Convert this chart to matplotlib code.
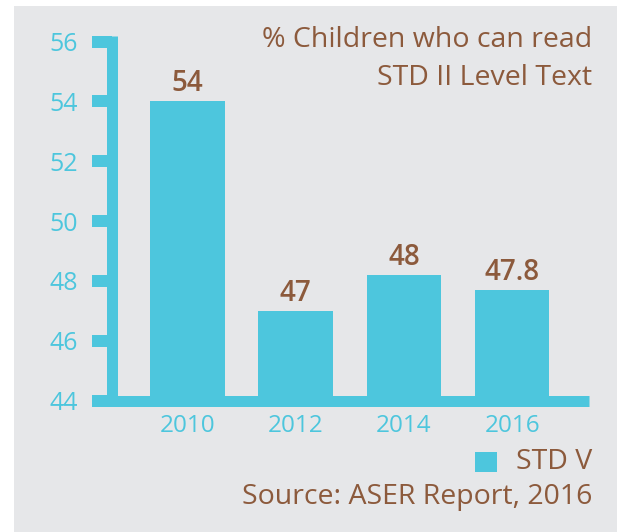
import matplotlib
matplotlib.use("Agg")
import matplotlib.pyplot as plt
from matplotlib.patches import Rectangle

# ---- data ----
years = ["2010", "2012", "2014", "2016"]
values = [54, 47, 48.2, 47.7]
value_labels = ["54", "47", "48", "47.8"]
y_ticks = [44, 46, 48, 50, 52, 54, 56]

CYAN = "#4DC6DD"
BROWN = "#8C5A3C"
PANEL = "#E6E7E9"

plt.rcParams["font.family"] = ["Open Sans", "DejaVu Sans"]

W, H = 617, 532
PX = 0.72  # points per pixel at dpi 100
fig = plt.figure(figsize=(W / 100, H / 100), dpi=100, facecolor="white")

# grey panel behind everything
fig.patches.append(Rectangle((14 / W, 0), 1, 1 - 6 / H, transform=fig.transFigure,
                             facecolor=PANEL, edgecolor="none", zorder=-5))

ax = fig.add_axes([92 / W, (H - 400.5) / H, (589 - 92) / W, (400.5 - 36.3) / H])
ax.set_facecolor("none")
ax.set_zorder(2)

x = list(range(len(years)))
ax.bar(x, values, width=0.69, color=CYAN, zorder=2)

for xi, v, lab in zip(x, values, value_labels):
    ax.annotate(lab, (xi, v), xytext=(0, 10 * PX), textcoords="offset points",
                ha="center", va="baseline", fontsize=20, color=BROWN, fontweight="semibold")

ax.set_xlim(-0.883, 3.711)
ax.set_ylim(44, 56.18)

for s in ["top", "right"]:
    ax.spines[s].set_visible(False)
ax.spines["left"].set_position(("data", -0.702))
for s in ["left", "bottom"]:
    ax.spines[s].set_linewidth(11 * PX)
    ax.spines[s].set_color(CYAN)
    ax.spines[s].set_capstyle("butt")

ax.set_yticks(y_ticks)
ax.set_yticklabels([str(t) for t in y_ticks])
ax.tick_params(axis="y", length=20 * PX, width=12 * PX, color=CYAN,
               labelcolor=CYAN, labelsize=18, pad=14 * PX)
ax.set_xticks(x)
ax.set_xticklabels(years)
ax.tick_params(axis="x", length=0, labelcolor=CYAN, labelsize=17.5, pad=10)

fig.text(592 / W, 1 - 40 / H, "% Children who can read", ha="right", va="center",
         fontsize=20.5, color=BROWN)
fig.text(592 / W, 1 - 78 / H, "STD II Level Text", ha="right", va="center",
         fontsize=20.5, color=BROWN)

# legend
fig.patches.append(Rectangle((475 / W, 1 - 472 / H), 22 / W, 20 / H, transform=fig.transFigure,
                             facecolor=CYAN, edgecolor="none", zorder=3))
fig.text(592 / W, 1 - 462 / H, "STD V", ha="right", va="center", fontsize=20.5, color=BROWN)

fig.text(592 / W, 1 - 497 / H, "Source: ASER Report, 2016", ha="right", va="center",
         fontsize=20.5, color=BROWN)

fig.savefig("out.png", dpi=100)
